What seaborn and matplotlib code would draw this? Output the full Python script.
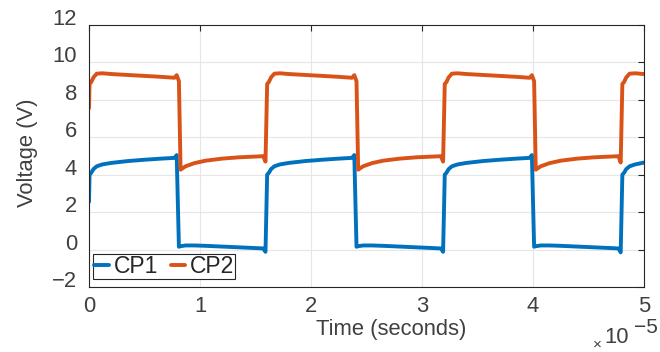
import numpy as np
import pandas as pd
import matplotlib
matplotlib.use('Agg')
import matplotlib.pyplot as plt
import seaborn as sns

# time in units of 1e-5 s (axis shows x10^-5)
time_e5 = [0.000, 0.005, 0.02, 0.04, 0.07, 0.12, 0.2, 0.35, 0.5, 0.65, 0.77, 0.79,
           0.81, 0.825, 0.87, 0.95, 1.05, 1.2, 1.35, 1.5, 1.57, 1.59,
           1.605, 1.62, 1.64, 1.67, 1.72, 1.8, 1.95, 2.1, 2.25, 2.37, 2.39,
           2.41, 2.425, 2.47, 2.55, 2.65, 2.8, 2.95, 3.1, 3.17, 3.19,
           3.205, 3.22, 3.24, 3.27, 3.32, 3.4, 3.55, 3.7, 3.85, 3.97, 3.99,
           4.01, 4.025, 4.07, 4.15, 4.25, 4.4, 4.55, 4.7, 4.77, 4.79,
           4.805, 4.82, 4.84, 4.87, 4.92, 5.0]

cp1 = [2.55, 4.0, 4.1, 4.3, 4.45, 4.55, 4.63, 4.73, 4.8, 4.86, 4.9, 5.05,
       0.15, 0.18, 0.22, 0.22, 0.2, 0.16, 0.12, 0.08, 0.06, -0.12,
       4.0, 4.1, 4.3, 4.45, 4.55, 4.63, 4.73, 4.8, 4.86, 4.9, 5.05,
       0.15, 0.18, 0.22, 0.22, 0.2, 0.16, 0.12, 0.08, 0.06, -0.12,
       4.0, 4.1, 4.3, 4.45, 4.55, 4.63, 4.73, 4.8, 4.86, 4.9, 5.05,
       0.15, 0.18, 0.22, 0.22, 0.2, 0.16, 0.12, 0.08, 0.06, -0.15,
       4.0, 4.1, 4.3, 4.45, 4.55, 4.65]

cp2 = [7.56, 8.85, 8.95, 9.2, 9.4, 9.42, 9.38, 9.33, 9.28, 9.23, 9.18, 9.32,
       9.0, 4.27, 4.45, 4.62, 4.75, 4.86, 4.93, 4.97, 4.99, 4.7,
       8.85, 8.95, 9.2, 9.4, 9.42, 9.38, 9.33, 9.28, 9.23, 9.18, 9.32,
       9.0, 4.27, 4.45, 4.62, 4.75, 4.86, 4.93, 4.97, 4.99, 4.7,
       8.85, 8.95, 9.2, 9.4, 9.42, 9.38, 9.33, 9.28, 9.23, 9.18, 9.32,
       9.0, 4.27, 4.45, 4.62, 4.75, 4.86, 4.93, 4.97, 4.99, 4.65,
       8.85, 8.95, 9.2, 9.4, 9.42, 9.38]

x_ticks = [0, 1, 2, 3, 4, 5]
y_ticks = [-2, 0, 2, 4, 6, 8, 10, 12]

sns.set_style('white')
plt.rcParams['font.family'] = ['Liberation Sans', 'DejaVu Sans']

df = pd.DataFrame({
    'time': time_e5 + time_e5,
    'voltage': cp1 + cp2,
    'series': ['CP1'] * len(cp1) + ['CP2'] * len(cp2),
})

txt = '#404040'
fs = 15.8
fig = plt.figure(figsize=(6.6, 3.52), dpi=100)
ax = fig.add_axes([89 / 660, 65 / 352, 555 / 660, 262 / 352])

sns.lineplot(data=df, x='time', y='voltage', hue='series', estimator=None,
             palette=['#0072BD', '#D95319'], linewidth=2.8, ax=ax)

ax.set_xlim(0, 5)
ax.set_ylim(-2, 12)
ax.set_xticks(x_ticks)
ax.set_yticks(y_ticks)
ax.set_xlabel('')
ax.set_ylabel('')
ax.grid(True, color='#e6e6e6', linewidth=0.8)
ax.set_axisbelow(True)
for s in ax.spines.values():
    s.set_color('#262626')
    s.set_linewidth(0.8)
ax.tick_params(direction='in', length=4.5, width=0.8, top=True, right=True,
               labelsize=fs, labelcolor=txt, color='#262626')
ax.tick_params(axis='y', pad=8.5)
ax.tick_params(axis='x', pad=6.5)
for lab in ax.get_yticklabels():
    lab.set_verticalalignment('baseline')

handles, labels = ax.get_legend_handles_labels()
leg = ax.legend(handles, labels, ncol=2, loc='lower left',
                bbox_to_anchor=(0.0072, 0.0305), borderaxespad=0,
                handlelength=0.65, handletextpad=0.2, columnspacing=0.55,
                borderpad=0.05, fontsize=16.5, fancybox=False,
                edgecolor='#262626', framealpha=1)
leg.get_frame().set_linewidth(0.8)

fig.text(391 / 660, 17 / 352, 'Time (seconds)', ha='center', va='baseline',
         fontsize=fs, color=txt)
fig.text(28 / 660, 199 / 352, 'Voltage (V)', ha='center', va='center',
         rotation=90, fontsize=fs, color=txt)
fig.text(597 / 660, 7 / 352, '\u00d7', ha='center', va='center',
         fontsize=11, color=txt)
fig.text(604 / 660, 9 / 352, '10', ha='left', va='baseline',
         fontsize=fs, color=txt)
fig.text(634 / 660, 19 / 352, '\u22125', ha='left', va='baseline',
         fontsize=15, color=txt)

fig.savefig('out.png', dpi=100)
